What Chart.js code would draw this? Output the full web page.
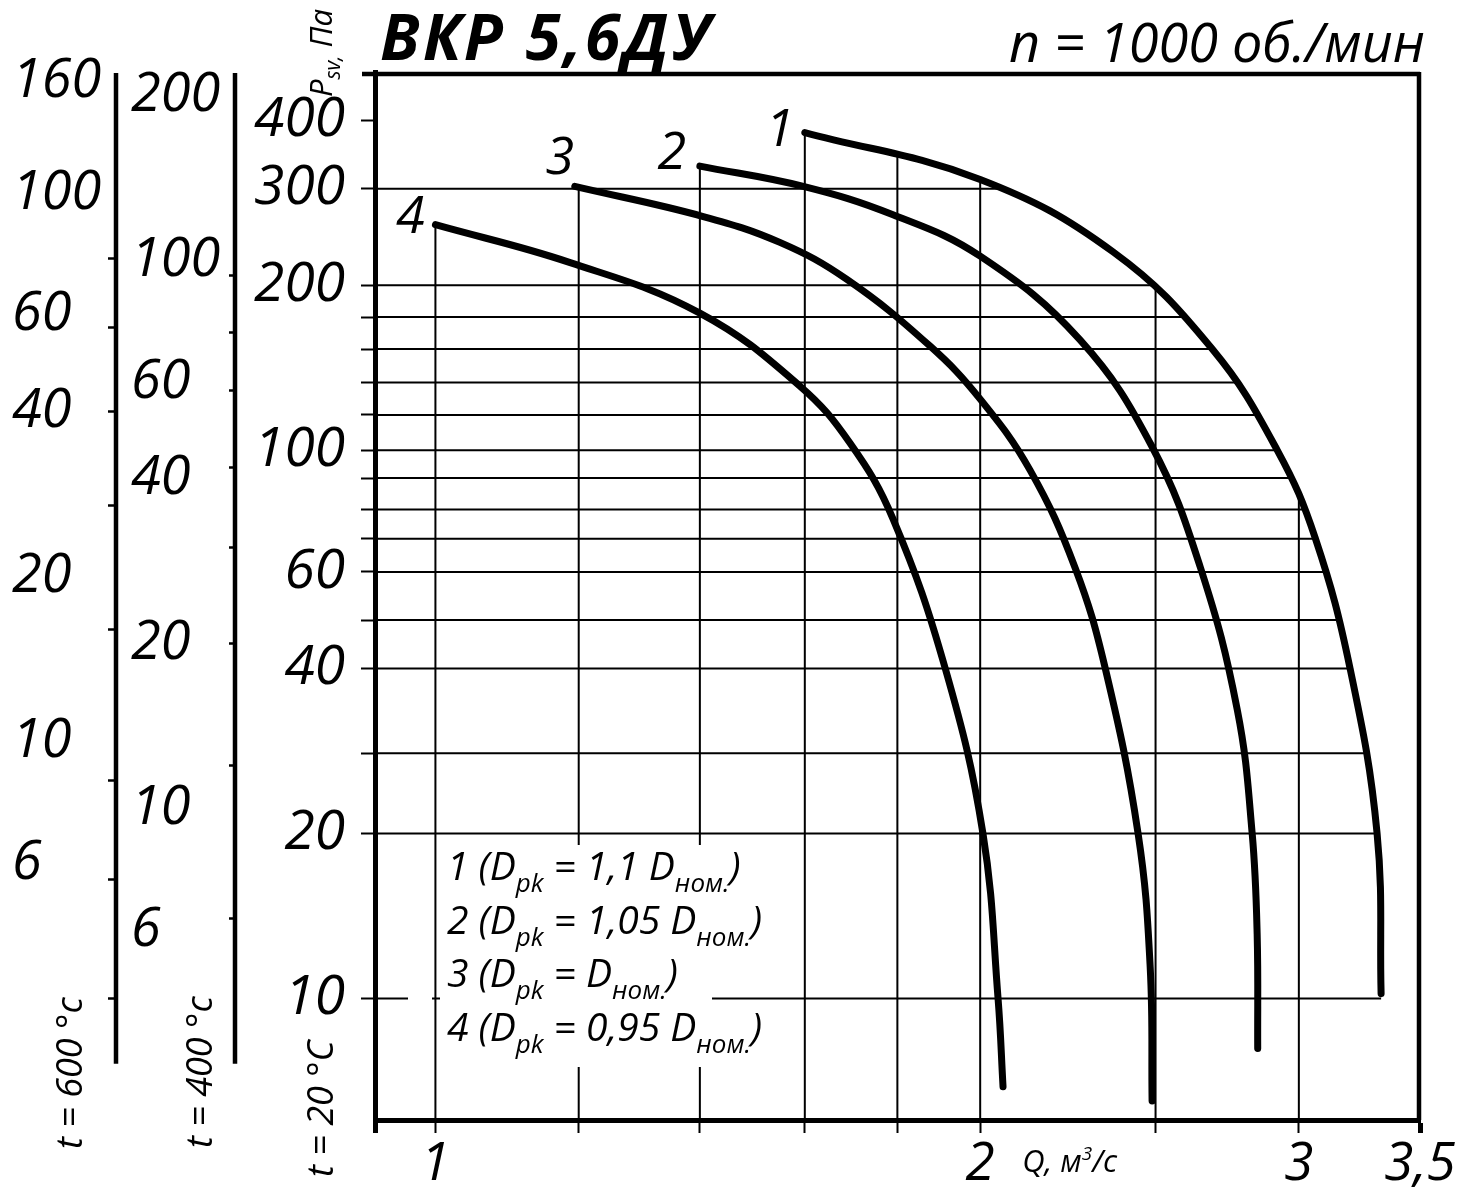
<!DOCTYPE html>
<html>
<head>
<meta charset="utf-8">
<title>ВКР 5,6ДУ</title>
<script src="https://cdn.jsdelivr.net/npm/chart.js@4.4.1/dist/chart.umd.min.js"></script>
<style>
html, body { margin: 0; padding: 0; background: #fff; }
#wrap { width: 1461px; height: 1189px; position: relative; }
</style>
</head>
<body>
<div id="wrap"><canvas id="chart"></canvas></div>
<script>
// ДАННЫЕ: Q, м3/с и Psv, Па (t = 20 °C)
var curveNames = ['1', '2', '3', '4'];
var curveRatio = ['1,1', '1,05', '', '0,95'];

var q1 = [1.60, 2.00, 2.369, 2.687, 2.919, 3.064, 3.202, 3.314, 3.331];
var p1 = [380, 312, 230, 153, 100, 69, 40, 20, 10.2];

var q2 = [1.40, 1.597, 1.79, 2.00, 2.271, 2.489, 2.646, 2.774, 2.827, 2.845, 2.847];
var p2 = [330, 303, 269, 226, 159, 101.5, 61.3, 33.6, 20, 13.1, 8.1];

var q3 = [1.194, 1.406, 1.550, 1.688, 1.876, 2.000, 2.131, 2.257, 2.345, 2.445, 2.483, 2.489];
var p3 = [303, 267, 239.5, 205, 155, 124, 92, 61, 40, 20, 11.4, 6.5];

var q4 = [1.00, 1.187, 1.40, 1.590, 1.695, 1.790, 1.913, 2.007, 2.046, 2.059];
var p4 = [258, 220, 178, 131, 103, 75, 40, 20, 10, 6.9];

var curveQ = [q1, q2, q3, q4];
var curveP = [p1, p2, p3, p4];

// оси
var xMin = 0.926, xMax = 3.5, yMin = 6, yMax = 490;
var xGrid = [1, 1.2, 1.4, 1.6, 1.8, 2, 2.5, 3];
var xLabels = { '1': '1', '2': '2', '3': '3', '3.5': '3,5' };
var yGrid = [300, 200, 175, 153, 133, 116, 100, 89, 78, 69, 60, 49, 40, 28, 20, 10];
var yLabels = [400, 300, 200, 100, 60, 40, 20, 10];

// шкалы давления при 400 и 600 °C
var k400 = 0.451, k600 = 0.34;
var y400Labels = [200, 100, 60, 40, 20, 10, 6];
var y400Marks = [94, 74, 58, 42, 30, 20, 12, 6.3];
var y600Labels = [160, 100, 60, 40, 20, 10, 6];
var y600Marks = [76, 57, 40, 27, 16, 8.5, 5.6, 3.4];
var auxLineEnd = 7.6; // низ линий доп. шкал (в Па при 20 °C)

var FONT = "'Open Sans', 'Noto Sans', sans-serif";
Chart.defaults.font.family = FONT;
Chart.defaults.color = '#000';

function pts(qs, ps) {
  return qs.map(function (q, i) { return { x: q, y: ps[i] }; });
}

var datasets = curveQ.map(function (qs, i) {
  return {
    data: pts(qs, curveP[i]),
    showLine: true, borderColor: '#000', borderWidth: 7,
    borderCapStyle: 'round', borderJoinStyle: 'round',
    tension: 0.4, pointRadius: 0
  };
});

// точки кривой в пикселях по её кривым Безье
function sampleCurve(chart, i) {
  var meta = chart.getDatasetMeta(i);
  meta.dataset.updateControlPoints(chart.chartArea, 'x');
  var p = meta.data, out = [];
  for (var k = 0; k < p.length - 1; k++) {
    var a = p[k], b = p[k + 1];
    var c1x = a.cp2x !== undefined ? a.cp2x : a.x, c1y = a.cp2y !== undefined ? a.cp2y : a.y;
    var c2x = b.cp1x !== undefined ? b.cp1x : b.x, c2y = b.cp1y !== undefined ? b.cp1y : b.y;
    for (var s = 0; s < 30; s++) {
      var t = s / 30, u = 1 - t;
      out.push({
        x: u * u * u * a.x + 3 * u * u * t * c1x + 3 * u * t * t * c2x + t * t * t * b.x,
        y: u * u * u * a.y + 3 * u * u * t * c1y + 3 * u * t * t * c2y + t * t * t * b.y
      });
    }
  }
  out.push({ x: p[p.length - 1].x, y: p[p.length - 1].y });
  return out;
}

function crossAt(path, prop, v) {
  var other = prop === 'x' ? 'y' : 'x';
  if (Math.abs(path[0][prop] - v) < 0.5) return path[0][other];
  for (var j = 0; j < path.length - 1; j++) {
    var a = path[j][prop] - v, b = path[j + 1][prop] - v;
    if (a === 0) return path[j][other];
    if (a * b < 0) {
      var t = a / (a - b);
      return path[j][other] + t * (path[j + 1][other] - path[j][other]);
    }
  }
  return null;
}

// сетка: горизонтали до кривой 1, вертикали до верхней кривой
var gridPlugin = {
  id: 'gridToCurves',
  beforeDatasetsDraw: function (chart) {
    var ctx = chart.ctx, a = chart.chartArea, xs = chart.scales.x, ys = chart.scales.y;
    var paths = curveQ.map(function (q, i) { return sampleCurve(chart, i); });
    var outer = paths[0], last = outer[outer.length - 1];
    ctx.save();
    ctx.strokeStyle = '#000';
    ctx.lineWidth = 2;
    ctx.beginPath();
    yGrid.forEach(function (p) {
      var py = ys.getPixelForValue(p);
      var xe = crossAt(outer, 'y', py);
      if (xe === null && py > last.y) xe = last.x;
      if (xe === null) return;
      ctx.moveTo(a.left, py);
      ctx.lineTo(xe, py);
    });
    xGrid.forEach(function (q) {
      var px = xs.getPixelForValue(q), top = null;
      paths.forEach(function (path) {
        var yc = crossAt(path, 'x', px);
        if (yc !== null && (top === null || yc < top)) top = yc;
      });
      if (top === null) return;
      ctx.moveTo(px, a.bottom);
      ctx.lineTo(px, top);
    });
    ctx.stroke();
    ctx.restore();
  }
};

function auxTicks(labels, marks) {
  var t = labels.map(function (v) { return { value: v, mark: false }; });
  return t.concat(marks.map(function (v) { return { value: v, mark: true }; }));
}

function auxAxis(weight, k, labels, marks, width, tl) {
  return {
    type: 'logarithmic', position: 'left', weight: weight,
    min: yMin * k, max: yMax * k,
    border: { display: false },
    grid: {
      drawOnChartArea: false, drawTicks: true, tickLength: tl, tickWidth: 2.5,
      tickColor: function (c) { return c.tick && c.tick.mark ? '#000' : 'rgba(0,0,0,0)'; }
    },
    ticks: {
      autoSkip: false, crossAlign: 'far', color: '#000',
      font: { size: 54, style: 'italic' },
      callback: function (v, i, t) { return t[i].mark ? '' : String(v); }
    },
    afterBuildTicks: function (s) { s.ticks = auxTicks(labels, marks); },
    afterFit: function (s) { s.width = width; }
  };
}

function richText(ctx, x, y, parts, big, small, drop) {
  parts.forEach(function (p) {
    ctx.font = 'italic ' + (p[1] ? small : big) + 'px ' + FONT;
    ctx.fillText(p[0], x, p[1] ? y + drop : y);
    x += ctx.measureText(p[0]).width;
  });
}

function vText(ctx, x, y, parts, big, small, drop) {
  ctx.save();
  ctx.translate(x, y);
  ctx.rotate(-Math.PI / 2);
  ctx.textAlign = 'left';
  ctx.textBaseline = 'alphabetic';
  richText(ctx, 0, 0, parts, big, small, drop);
  ctx.restore();
}

var labelOffsets = [[-25, -5], [-28, -15], [-15, -30], [-25, -10]];

var decor = {
  id: 'decor',
  afterDatasetsDraw: function (chart) {
    var ctx = chart.ctx, a = chart.chartArea, y = chart.scales.y;
    ctx.save();
    // подложка легенды
    ctx.fillStyle = '#fff';
    ctx.fillRect(a.left + 65, a.top + 773, 272, 222);
    ctx.fillRect(a.left + 33, y.getPixelForValue(10) - 4, 24, 8);
    ctx.fillStyle = '#000';
    ctx.textAlign = 'left';
    ctx.textBaseline = 'alphabetic';
    curveNames.forEach(function (n, i) {
      var mid = curveRatio[i] ? ' = ' + curveRatio[i] + ' D' : ' = D';
      richText(ctx, a.left + 72, a.top + 808 + i * 53.5,
        [[n + ' (D', 0], ['pk', 1], [mid, 0], ['ном.', 1], [')', 0]], 39, 26, 12);
    });
    ctx.restore();
  },
  afterDraw: function (chart) {
    var ctx = chart.ctx, a = chart.chartArea, y = chart.scales.y, x = chart.scales.x;
    ctx.save();
    ctx.strokeStyle = '#000';
    ctx.fillStyle = '#000';
    // рамка сверху и справа
    ctx.lineWidth = 4.5;
    ctx.beginPath();
    ctx.moveTo(a.left - 13, a.top + 2);
    ctx.lineTo(a.right, a.top + 2);
    ctx.moveTo(a.right - 1, a.top);
    ctx.lineTo(a.right - 1, a.bottom);
    ctx.stroke();
    // линии шкал 400 и 600 °C
    ['y600', 'y400'].forEach(function (id) {
      var s = chart.scales[id];
      ctx.beginPath();
      ctx.moveTo(s.right - 2, a.top + 1);
      ctx.lineTo(s.right - 2, y.getPixelForValue(auxLineEnd));
      ctx.stroke();
    });
    // заголовки
    ctx.textBaseline = 'alphabetic';
    ctx.textAlign = 'left';
    ctx.font = 'italic bold 64px ' + FONT;
    ctx.letterSpacing = '3px';
    ctx.fillText('ВКР 5,6ДУ', a.left + 5, 60);
    ctx.letterSpacing = '0px';
    ctx.textAlign = 'right';
    ctx.font = 'italic 54px ' + FONT;
    ctx.fillText('n = 1000 об./мин', a.right + 5, 62);
    // номера кривых
    ctx.textAlign = 'center';
    ctx.font = 'italic 52px ' + FONT;
    curveNames.forEach(function (n, i) {
      var p = chart.getDatasetMeta(i).data[0];
      ctx.fillText(n, p.x + labelOffsets[i][0], p.y + labelOffsets[i][1] + 18);
    });
    // подпись оси Q
    ctx.textAlign = 'left';
    richText(ctx, x.getPixelForValue(2) + 42, 1172, [['Q, м', 0], ['3', 2], ['/с', 0]], 31, 19, -12);
    // вертикальные подписи
    vText(ctx, 332, 97, [['P', 0], ['sv,', 1], [' Па', 0]], 31, 21, 8);
    vText(ctx, 333, 1177, [['t = 20 °C', 0]], 36, 24, 0);
    vText(ctx, 212, 1148, [['t = 400 °c', 0]], 36, 24, 0);
    vText(ctx, 82, 1149, [['t = 600 °c', 0]], 36, 24, 0);
    ctx.restore();
  }
};

new Chart(document.getElementById('chart'), {
  type: 'scatter',
  data: { datasets: datasets },
  options: {
    responsive: true, maintainAspectRatio: false, animation: false, events: [],
    layout: { padding: { top: 72, right: 41, bottom: 0, left: 12 } },
    plugins: { legend: { display: false }, tooltip: { enabled: false }, title: { display: false } },
    scales: {
      x: {
        type: 'logarithmic', min: xMin, max: xMax,
        border: { display: true, width: 5, color: '#000' },
        grid: {
          drawOnChartArea: false, drawTicks: true, tickLength: 13, tickColor: '#000',
          tickWidth: function (c) { return c.tick && (c.tick.value === xMin || c.tick.value === xMax) ? 5 : 2; }
        },
        ticks: {
          autoSkip: false, maxRotation: 0, minRotation: 0, padding: 0, color: '#000',
          font: { size: 53, style: 'italic' },
          callback: function (v) { return xLabels[String(v)] || ''; }
        },
        afterBuildTicks: function (s) {
          s.ticks = xGrid.concat([xMax, xMin]).map(function (v) { return { value: v }; });
          s.ticks.push(s.ticks.splice(7, 1)[0]);
        },
        afterFit: function (s) { s.height = 69; }
      },
      y: {
        type: 'logarithmic', position: 'left', weight: 0, min: yMin, max: yMax,
        border: { display: true, width: 5, color: '#000' },
        grid: { drawOnChartArea: false, drawTicks: true, tickLength: 14, tickWidth: 2, tickColor: '#000' },
        ticks: {
          autoSkip: false, padding: 16, color: '#000',
          font: { size: 55, style: 'italic' },
          callback: function (v) { return yLabels.indexOf(v) >= 0 ? String(v) : ''; }
        },
        afterBuildTicks: function (s) {
          s.ticks = [400].concat(yGrid).map(function (v) { return { value: v }; });
        },
        afterFit: function (s) { s.width = 138; }
      },
      y400: auxAxis(1, k400, y400Labels, y400Marks, 106, 8),
      ysp: {
        type: 'linear', position: 'left', weight: 2, display: true,
        grid: { display: false }, border: { display: false }, ticks: { display: false },
        afterFit: function (s) { s.width = 13; }
      },
      y600: auxAxis(3, k600, y600Labels, y600Marks, 106, 10)
    }
  },
  plugins: [gridPlugin, decor]
});
</script>
</body>
</html>
